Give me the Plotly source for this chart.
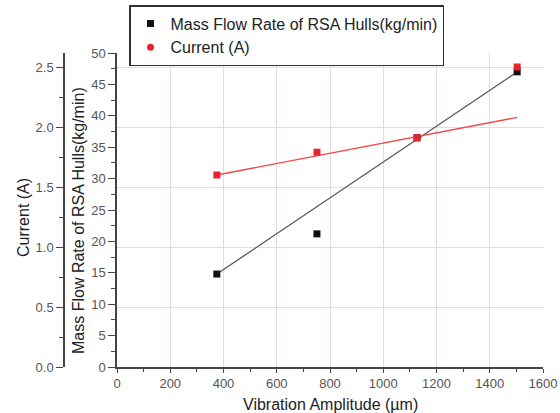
import plotly.graph_objects as go

# ---- data ----
amplitude = [375, 751, 1127, 1503]          # Vibration Amplitude (µm)
mass_flow = [14.8, 21.2, 36.5, 47.0]        # kg/min
current = [1.60, 1.79, 1.91, 2.50]          # A

fit_x = [375, 1503]
mass_fit = [14.8, 47.0]
current_fit = [1.60, 2.08]

x_ticks = [0, 200, 400, 600, 800, 1000, 1200, 1400, 1600]
mass_ticks = [0, 5, 10, 15, 20, 25, 30, 35, 40, 45, 50]
current_ticks = [0.0, 0.5, 1.0, 1.5, 2.0, 2.5]

W, H = 560, 413
ML, MR, MT, MB = 64, 17, 53, 46
PW = W - ML - MR
PH = H - MT - MB
plot_left_px = 117
xdom0 = (plot_left_px - ML) / PW

def px_x(px):
    return (px - ML) / PW

def px_y(py):
    return (H - MB - py) / PH

FONT = "Liberation Sans, Arial, sans-serif"
TICKC = "#555555"
AXC = "#444444"
GRIDC = "#e3dcdc"
RED = "#e8232b"

fig = go.Figure()

# mass flow fit line and points (left inner axis)
fig.add_trace(go.Scatter(x=fit_x, y=mass_fit, mode="lines",
                         line=dict(color="#5a5a5a", width=1.3),
                         showlegend=False, hoverinfo="skip"))
fig.add_trace(go.Scatter(x=amplitude, y=mass_flow, mode="markers",
                         marker=dict(symbol="square", size=7, color="#111111"),
                         name="Mass Flow Rate of RSA Hulls(kg/min)"))

# current fit line and points (outer axis)
fig.add_trace(go.Scatter(x=fit_x, y=current_fit, mode="lines", yaxis="y2",
                         line=dict(color="#f04848", width=1.3),
                         showlegend=False, hoverinfo="skip"))
fig.add_trace(go.Scatter(x=amplitude, y=current, mode="markers", yaxis="y2",
                         marker=dict(symbol="square", size=7, color=RED),
                         showlegend=False, name="Current (A)"))
# legend entry (circle symbol as in the reference legend)
fig.add_trace(go.Scatter(x=[None], y=[None], mode="markers", yaxis="y2",
                         marker=dict(symbol="circle", size=7, color=RED),
                         name="Current (A)"))

tickfont = dict(family=FONT, size=13, color=TICKC)

fig.update_layout(
    width=W, height=H,
    margin=dict(l=ML, r=MR, t=MT, b=MB, pad=0, autoexpand=False),
    paper_bgcolor="white", plot_bgcolor="white",
    font=dict(family=FONT),
    xaxis=dict(domain=[xdom0, 1], range=[0, 1600], tickvals=x_ticks,
               showgrid=True, gridcolor=GRIDC, gridwidth=1,
               zeroline=False, showline=True, linecolor=AXC, linewidth=1.5,
               ticks="outside", ticklen=4, tickcolor=AXC, tickwidth=1.2,
               minor=dict(dtick=100, ticks="outside", ticklen=3, tickcolor=AXC, showgrid=False),
               tickfont=tickfont),
    yaxis=dict(range=[0, 50], tickvals=mass_ticks, anchor="x",
               showgrid=False, zeroline=False, showline=True, linecolor=AXC, linewidth=1.5,
               ticks="outside", ticklen=7, tickcolor=AXC, tickwidth=1.2,
               minor=dict(dtick=2.5, ticks="outside", ticklen=4, tickcolor=AXC, showgrid=False),
               tickfont=tickfont),
    yaxis2=dict(range=[0, PH / 120.0], tickvals=current_ticks, tickformat=".1f",
                overlaying="y", anchor="free", position=0, side="left",
                showgrid=True, gridcolor=GRIDC, gridwidth=1,
                zeroline=False, showline=True, linecolor=AXC, linewidth=1.5,
                ticks="outside", ticklen=7, tickcolor=AXC, tickwidth=1.2,
                minor=dict(dtick=0.25, ticks="outside", ticklen=4, tickcolor=AXC, showgrid=False),
                tickfont=tickfont),
    legend=dict(x=px_x(129), y=px_y(5), xanchor="left", yanchor="top",
                bgcolor="white", bordercolor="#333333", borderwidth=1.5,
                font=dict(family=FONT, size=16, color="#222222"),
                tracegroupgap=0),
    showlegend=True,
)

annot_font = dict(family=FONT, size=16, color="#222222")
fig.add_annotation(text="Current (A)", xref="paper", yref="paper",
                   x=px_x(23), y=px_y(218), textangle=-90, showarrow=False,
                   font=annot_font, xanchor="center", yanchor="middle")
fig.add_annotation(text="Mass Flow Rate of RSA Hulls(kg/min)", xref="paper", yref="paper",
                   x=px_x(78), y=px_y(221), textangle=-90, showarrow=False,
                   font=annot_font, xanchor="center", yanchor="middle")
fig.add_annotation(text="Vibration Amplitude (µm)", xref="paper", yref="paper",
                   x=px_x(330), y=px_y(404), showarrow=False,
                   font=annot_font, xanchor="center", yanchor="middle")

fig.write_html("out.html")
